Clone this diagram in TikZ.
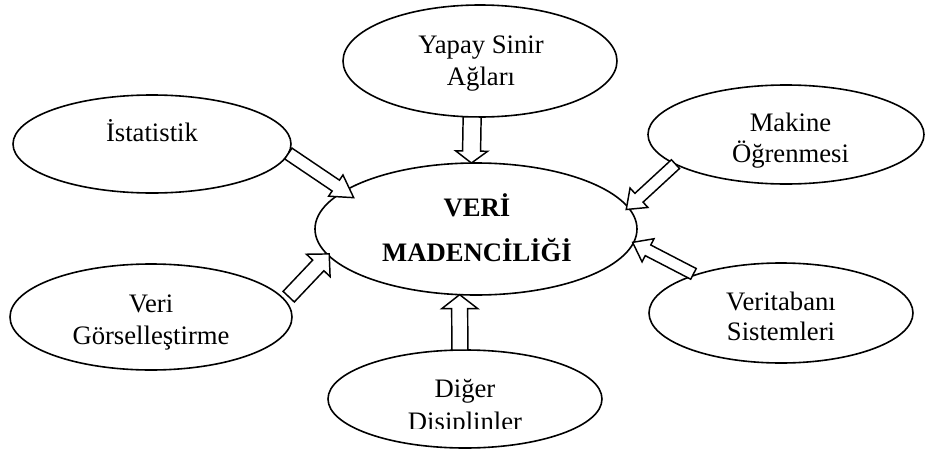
\documentclass[tikz,border=0pt]{standalone}
\usepackage{fontspec}
\setmainfont{Liberation Serif}
\usetikzlibrary{shapes.geometric,calc}
\tikzset{
  ell/.style={ellipse,draw,line width=1.2pt,inner sep=0pt,outer sep=0pt},
  lbl/.style={anchor=base,inner sep=0pt,font=\fontsize{20}{24}\selectfont},
  blbl/.style={anchor=base,inner sep=0pt,font=\fontsize{20}{24}\selectfont\bfseries},
  barrow/.style={draw,fill=white,line width=1.1pt,line join=miter}
}
% #1 id, #2 from, #3 to, #4 back offset, #5 tip extension, #6 shaft half width, #7 head half width, #8 head length
\newcommand\blockarr[8]{%
  \coordinate (#1s) at ($(#2)!#4!(#3)$);
  \coordinate (#1t) at ($(#3)!-#5!(#2)$);
  \coordinate (#1b) at ($(#1t)!#8!(#1s)$);
  \draw[barrow] ($(#1s)!#6!90:(#1t)$) -- ($(#1b)!#6!90:(#1t)$) -- ($(#1b)!#7!90:(#1t)$)
    -- (#1t) -- ($(#1b)!#7!-90:(#1t)$) -- ($(#1b)!#6!-90:(#1t)$) -- ($(#1s)!#6!-90:(#1t)$) -- cycle;
}
\begin{document}
\begin{tikzpicture}[x=0.75pt,y=-0.75pt]
\useasboundingbox (0,0) rectangle (926,450);
% ellipses
\node[ell,minimum width=205.5pt,minimum height=84pt] (yap) at (480,61) {};
\node[ell,minimum width=208.5pt,minimum height=73.5pt] (ist) at (152,144) {};
\node[ell,minimum width=207pt,minimum height=74.25pt] (mak) at (786,134.5) {};
\node[ell,minimum width=241.5pt,minimum height=99pt] (cen) at (476,229) {};
\node[ell,minimum width=211.5pt,minimum height=79.5pt] (vg) at (151,317) {};
\node[ell,minimum width=198pt,minimum height=75pt] (vt) at (781,313) {};
\node[ell,minimum width=205.5pt,minimum height=73.5pt] (dig) at (465,399) {};
% labels
\node[lbl] (t-ist) at (152,141) {İstatistik};
\node[lbl] (t-vg1) at (151,312) {Veri};
\node[lbl] (t-vg2) at (151,344) {Görselleştirme};
\node[lbl] (t-mak1) at (790.5,131.5) {Makine};
\node[lbl] (t-mak2) at (790.5,162) {Öğrenmesi};
\node[lbl] (t-vt1) at (781,310) {Veritabanı};
\node[lbl] (t-vt2) at (781,340) {Sistemleri};
\node[lbl] (t-yap1) at (481,53.5) {Yapay Sinir};
\node[lbl] (t-yap2) at (481,85.5) {Ağları};
\node[blbl] (t-cen1) at (477,216.7) {VERİ};
\node[blbl] (t-cen2) at (477,261.7) {MADENCİLİĞİ};
\node[lbl] (t-dig1) at (465,397.3) {Diğer};
\begin{scope}
  \clip (330,405) rectangle (600,428.3);
  \node[lbl] (t-dig2) at (465,430) {Disiplinler};
\end{scope}
% block arrows
\blockarr{a1}{yap.-98}{cen.94}{0pt}{0pt}{6.75pt}{12pt}{9pt}
\blockarr{a2}{dig.96}{cen.-104}{0pt}{0pt}{6pt}{13.5pt}{10.5pt}
\blockarr{a3}{ist.-4}{cen.164}{0pt}{8.7pt}{4.9pt}{9.6pt}{16.2pt}
\blockarr{a4}{vg.7}{cen.190}{4pt}{1.2pt}{5.8pt}{12.2pt}{11.9pt}
\blockarr{a5}{mak.195}{cen.8}{0pt}{2.1pt}{4.5pt}{9.9pt}{13pt}
\blockarr{a6}{vt.156}{cen.-5}{1.7pt}{0.7pt}{4.5pt}{9.75pt}{13pt}
\end{tikzpicture}
\end{document}
